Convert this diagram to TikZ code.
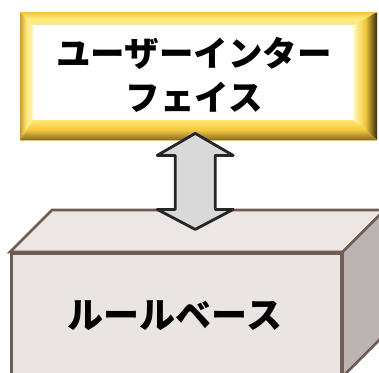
\documentclass[tikz,border=0pt]{standalone}
\usepackage{fontspec}
\newfontfamily\jp{Noto Sans CJK JP}
\usetikzlibrary{calc}
\definecolor{faceC}{HTML}{EAE4E2}
\definecolor{topC}{HTML}{ECE6E4}
\definecolor{sideC}{HTML}{BCB4B2}
\definecolor{edgeC}{HTML}{705B55}
\definecolor{arrowF}{HTML}{D9D9D9}
\definecolor{arrowD}{HTML}{262626}
\definecolor{goldA}{HTML}{F2C63A}
\definecolor{goldB}{HTML}{FFE97A}
\definecolor{goldC}{HTML}{FFF6B0}
\definecolor{goldD}{HTML}{C9A030}
\definecolor{goldE}{HTML}{3A2A00}
\definecolor{goldF}{HTML}{8A6A22}
\tikzset{
  cubeline/.style={draw=edgeC, line width=2.6pt, line join=miter},
  bigtext/.style={font=\jp\bfseries\fontsize{34.5}{44}\selectfont, align=center, text=black},
  arrowshape/.style={draw=arrowD, fill=arrowF, line width=2.8pt, line join=round}
}
\begin{document}
\begin{tikzpicture}[x=1pt,y=-1pt]
\useasboundingbox (0,0) rectangle (379,372);
% ---------- rule base cube ----------
\node[cubeline, fill=faceC, minimum width=330pt, minimum height=122pt, inner sep=0pt, anchor=north west] (rb) at (10,252) {};
\draw[cubeline, fill=topC] (rb.north west) -- ($(rb.north west)+(42,-42)$) -- ($(rb.north east)+(42,-42)$) -- (rb.north east) -- cycle;
\draw[cubeline, fill=sideC] (rb.north east) -- ($(rb.north east)+(42,-42)$) -- ($(rb.south east)+(42,-42)$) -- (rb.south east) -- cycle;
\node[bigtext, font=\jp\bfseries\fontsize{36}{40}\selectfont] (rbt) at (175,316) {ルールベース};
% ---------- user interface bevel box ----------
\coordinate (o1) at (20,12);
\coordinate (o2) at (377,12);
\coordinate (o3) at (377,140);
\coordinate (o4) at (20,140);
\coordinate (i1) at (33,25);
\coordinate (i2) at (354,25);
\coordinate (i3) at (354,120);
\coordinate (i4) at (33,120);
\shade[top color=goldA, bottom color=goldB, middle color=goldB] (o1) -- (o2) -- (i2) -- (i1) -- cycle;
\shade[left color=goldD, right color=goldC, middle color=goldB] (o1) -- (i1) -- (i4) -- (o4) -- cycle;
\shade[left color=goldC, right color=goldE, middle color=goldA] (o2) -- (o3) -- (i3) -- (i2) -- cycle;
\shade[top color=goldB, bottom color=goldF, middle color=goldA] (i4) -- (i3) -- (o3) -- (o4) -- cycle;
\draw[goldA, line width=1pt] (o4) -- (o3);
\draw[goldA, line width=1pt] (o1) -- (o2);
\node[fill=white, minimum width=321pt, minimum height=95pt, inner sep=0pt, anchor=north west] (ui) at (i1) {};
\node[bigtext] (uit) at (194,75) {ユーザーインター\\フェイス};
% ---------- double arrow between ui and rule base ----------
\coordinate (at) at ($(ui.south)+(1.5,13)$);
\coordinate (ab) at ($(at)+(0,96)$);
\draw[arrowshape] (at) -- ++(-38,22) -- ++(18,0) -- ++(0,54) -- ++(-18,0) -- (ab)
  -- ++(38,-20) -- ++(-18,0) -- ++(0,-54) -- ++(18,0) -- cycle;
\end{tikzpicture}
\end{document}
